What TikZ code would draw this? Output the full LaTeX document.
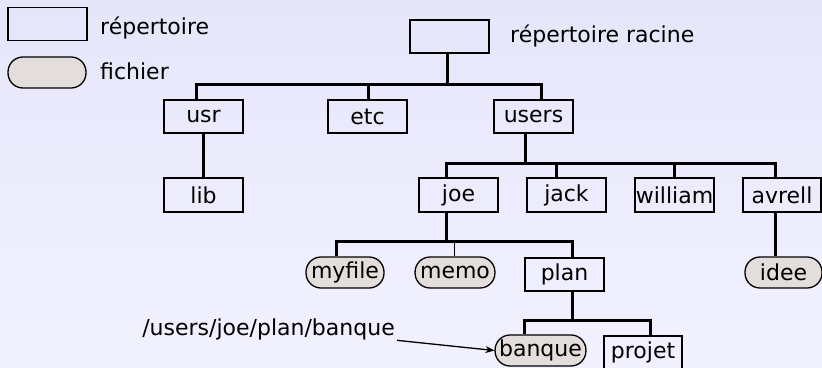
\documentclass[tikz,border=0pt]{standalone}
\usepackage{fontspec}
\setmainfont{DejaVu Sans}
\usetikzlibrary{arrows.meta}
\definecolor{bgtop}{RGB}{230,230,250}
\definecolor{bgbot}{RGB}{241,241,255}
\definecolor{filec}{RGB}{227,221,220}
\begin{document}
\begin{tikzpicture}[x=1pt,y=-1pt,
  every node/.style={font=\fontsize{22}{24}\selectfont},
  dirbox/.style={draw, line width=1.3pt, minimum width=79pt, minimum height=33pt, inner sep=0pt},
  filebox/.style={draw, line width=1.3pt, fill=filec, rounded corners=15pt, minimum width=78pt, minimum height=31pt, inner xsep=5pt, inner ysep=0pt},
  lbl/.style={anchor=west, inner sep=0pt},
  bus/.style={line width=3pt},
  thinbus/.style={line width=1pt}]
\useasboundingbox (0,0) rectangle (822,367);
\shade[top color=bgtop, bottom color=bgbot] (0,0) rectangle (822,367);

% legend
\node[dirbox] (legrep) at (47.5,24) {};
\node[lbl] (legreptxt) at (100,28) {répertoire};
\node[filebox] (legfile) at (47,72.5) {};
\node[lbl] (legfiletxt) at (100,71) {fichier};

% nodes
\node[dirbox] (root) at (449.5,36.5) {};
\node[lbl] (roottxt) at (510,35.5) {répertoire racine};
\node[dirbox] (usr) at (203.5,116.5) {usr};
\node[dirbox] (etc) at (367.5,116.5) {etc};
\node[dirbox] (users) at (533.5,116.5) {users};
\node[dirbox, minimum height=34pt] (lib) at (203.5,195) {lib};
\node[dirbox, minimum height=34pt] (joe) at (458.5,195) {joe};
\node[dirbox, minimum height=34pt] (jack) at (566.5,195) {jack};
\node[dirbox, minimum height=34pt] (william) at (674.5,195) {william};
\node[dirbox, minimum height=34pt, minimum width=78pt] (avrell) at (782,195) {avrell};
\node[filebox] (myfile) at (345,272.5) {myfile};
\node[filebox] (memo) at (455,272.5) {memo};
\node[dirbox] (plan) at (564.5,274.5) {plan};
\node[filebox, minimum width=77pt] (idee) at (783.5,272.5) {idee};
\node[filebox, inner xsep=4pt] (banque) at (540.5,350.5) {banque};
\node[dirbox, minimum width=78pt] (projet) at (643,352.5) {projet};

% junction coordinates
\coordinate (cRoot) at (447,84);
\coordinate (cUsr) at (196,84);
\coordinate (cEtc) at (368,84);
\coordinate (cUsers) at (541,84);
\coordinate (dUsers) at (525,163);
\coordinate (cJoe) at (446,163);
\coordinate (cJack) at (556,163);
\coordinate (cWilliam) at (674,163);
\coordinate (cAvrell) at (775,163);
\coordinate (dJoe) at (446,241);
\coordinate (cMyfile) at (336,241);
\coordinate (cMemo) at (454,241);
\coordinate (cPlan) at (572,241);
\coordinate (dPlan) at (572,320);
\coordinate (cBanque) at (524,320);
\coordinate (cProjet) at (650,320);

% connectors
\draw[bus] (cRoot |- root.south) -- (cRoot);
\draw[bus] (cUsr |- usr.north) -- (cUsr) -- (cUsers) -- (cUsers |- users.north);
\draw[bus] (cEtc) -- (cEtc |- etc.north);
\draw[bus] (usr.south) -- (lib.north);

\draw[bus] (dUsers |- users.south) -- (dUsers);
\draw[bus] (cJoe |- joe.north) -- (cJoe) -- (cAvrell) -- (cAvrell |- avrell.north);
\draw[bus] (cJack) -- (cJack |- jack.north);
\draw[bus] (cWilliam) -- (cWilliam |- william.north);
\draw[bus] (cAvrell |- avrell.south) -- (cAvrell |- idee.north);

\draw[bus] (dJoe |- joe.south) -- (dJoe);
\draw[bus] (cMyfile |- myfile.north) -- (cMyfile) -- (cPlan) -- (cPlan |- plan.north);
\draw[thinbus] (cMemo) -- (cMemo |- memo.north);

\draw[bus] (dPlan |- plan.south) -- (dPlan);
\draw[bus] (cBanque |- banque.north) -- (cBanque) -- (cProjet) -- (cProjet |- projet.north);

% path label
\node[anchor=east, inner sep=0pt] (path) at (395,329.5) {/users/joe/plan/banque};
\draw[line width=1.3pt, -{Stealth[length=9pt,width=7pt]}] ([xshift=2pt]path.south east) -- (banque.west);
\end{tikzpicture}
\end{document}
